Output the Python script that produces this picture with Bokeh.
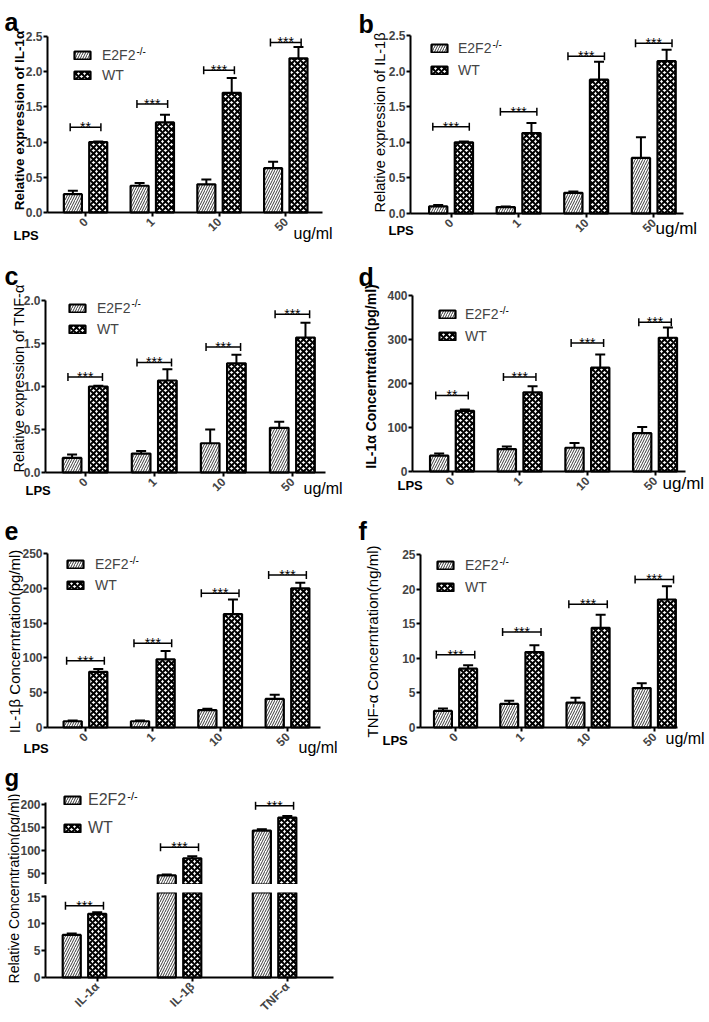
import math
from bokeh.plotting import figure
from bokeh.models import (Range1d, FixedTicker, NumeralTickFormatter, Label, Legend,
                          LegendItem, LinearAxis, ColumnDataSource, CDSView, IndexFilter)
from bokeh.layouts import row, column
from bokeh.embed import file_html
from bokeh.resources import INLINE
from bokeh.core.properties import value

FONT = "Liberation Sans"

# ---------------- data ----------------
doses = ["0", "1", "10", "50"]
cytokines = ["IL-1α", "IL-1β", "TNF-α"]

a_ko = [0.26, 0.38, 0.40, 0.63]
a_ko_err = [0.05, 0.04, 0.07, 0.09]
a_wt = [1.00, 1.28, 1.70, 2.19]
a_wt_err = [0.01, 0.11, 0.21, 0.16]
a_sig = ["**", "***", "***", "***"]
a_sig_y = [1.21, 1.54, 2.02, 2.415]
a_yticks = [0, 0.5, 1.0, 1.5, 2.0, 2.5]

b_ko = [0.10, 0.09, 0.29, 0.78]
b_ko_err = [0.02, 0.01, 0.02, 0.29]
b_wt = [1.00, 1.13, 1.88, 2.14]
b_wt_err = [0.01, 0.14, 0.25, 0.16]
b_sig = ["***", "***", "***", "***"]
b_sig_y = [1.22, 1.43, 2.21, 2.39]
b_yticks = [0, 0.5, 1.0, 1.5, 2.0, 2.5]

c_ko = [0.17, 0.22, 0.34, 0.52]
c_ko_err = [0.04, 0.03, 0.16, 0.07]
c_wt = [1.00, 1.07, 1.27, 1.57]
c_wt_err = [0.01, 0.13, 0.10, 0.17]
c_sig = ["***", "***", "***", "***"]
c_sig_y = [1.11, 1.28, 1.46, 1.84]
c_yticks = [0, 0.5, 1.0, 1.5, 2.0]

d_ko = [36, 51, 54, 87]
d_ko_err = [5, 6, 11, 14]
d_wt = [138, 180, 236, 304]
d_wt_err = [3, 14, 30, 23]
d_sig = ["**", "***", "***", "***"]
d_sig_y = [173, 215, 292, 339]
d_yticks = [0, 100, 200, 300, 400]

e_ko = [9, 9, 25, 41]
e_ko_err = [1, 1, 2, 6]
e_wt = [80, 98, 163, 200]
e_wt_err = [4, 12, 21, 8]
e_sig = ["***", "***", "***", "***"]
e_sig_y = [96, 121, 193, 219]
e_yticks = [0, 50, 100, 150, 200, 250]

f_ko = [2.4, 3.4, 3.6, 5.7]
f_ko_err = [0.35, 0.45, 0.7, 0.7]
f_wt = [8.5, 10.9, 14.4, 18.5]
f_wt_err = [0.5, 1.0, 1.9, 1.9]
f_sig = ["***", "***", "***", "***"]
f_sig_y = [10.5, 13.8, 17.8, 21.4]
f_yticks = [0, 5, 10, 15, 20, 25]

g_ko = [7.9, 46.5, 143]
g_ko_err = [0.25, 2, 3]
g_wt = [11.8, 83.5, 171]
g_wt_err = [0.3, 4.5, 3.5]
g_sig = ["***", "***", "***"]
g_sig_y = [13.3, 107, 196.4]
g_yticks_upper = [50, 100, 150, 200]
g_yticks_lower = [0, 5, 10, 15]
g_break = (15.2, 27)   # lower segment ends, upper segment starts

# ---------------- styles ----------------
KO_STYLE = dict(fill_color="white", hatch_pattern="/", hatch_color="#3a3a3a",
                hatch_scale=5, hatch_weight=1)
WT_STYLE = dict(fill_color="white", hatch_pattern="x", hatch_color="black",
                hatch_scale=6, hatch_weight=2.0)


def add_label(p, x, y, text, size, bold=False, angle=0.0, align="left",
              baseline="alphabetic"):
    p.add_layout(Label(x=x, y=y, x_units="screen", y_units="screen", text=text,
                       text_font=FONT, text_font_size=f"{size}px",
                       text_font_style="bold" if bold else "normal", angle=angle,
                       text_align=align, text_baseline=baseline, text_color="black"))


def make_fig(w, h, L, R, T, B, xs, xe, ymin, ymax):
    # the whole canvas is the frame; the plot box [L,R]x[T,B] (pixels) holds the data
    kx = (R - L) / (xe - xs)
    ky = (B - T) / (ymax - ymin)
    p = figure(width=w, height=h,
               x_range=Range1d(xs - L / kx, xe + (w - R) / kx),
               y_range=Range1d(ymin - (h - B) / ky, ymax + T / ky),
               min_border_left=0, min_border_right=0, min_border_top=0,
               min_border_bottom=0, output_backend="svg", toolbar_location=None,
               x_axis_location=None, y_axis_location=None)
    p.grid.visible = False
    p.outline_line_color = None
    p.background_fill_color = "white"
    p.border_fill_color = "white"
    return p


def y_axis(p, xs, ymin, ymax, ticks, fmt, tick_out=4):
    ax = LinearAxis(fixed_location=xs, bounds=(ymin, ymax),
                    ticker=FixedTicker(ticks=ticks),
                    formatter=NumeralTickFormatter(format=fmt))
    ax.minor_tick_line_color = None
    ax.major_tick_out = tick_out
    ax.major_tick_in = 0
    ax.axis_line_width = 2
    ax.major_tick_line_width = 2
    ax.major_label_text_font = FONT
    ax.major_label_text_font_size = "12px"
    ax.major_label_text_font_style = "bold"
    ax.major_label_standoff = 1
    p.add_layout(ax, "left")


def x_axis(p, ymin, xs, xe, ticks, labels):
    ax = LinearAxis(fixed_location=ymin, bounds=(xs, xe),
                    ticker=FixedTicker(ticks=ticks),
                    major_label_overrides={t: lab for t, lab in zip(ticks, labels)},
                    major_label_orientation=math.pi / 4)
    ax.minor_tick_line_color = None
    ax.major_tick_out = 4
    ax.major_tick_in = 0
    ax.axis_line_width = 2
    ax.major_tick_line_width = 2
    ax.major_label_text_font = FONT
    ax.major_label_text_font_size = "12px"
    ax.major_label_text_font_style = "bold"
    ax.major_label_standoff = 3
    p.add_layout(ax, "below")


def draw_groups(p, ko, ko_err, wt, wt_err, sig, sig_y, bw, off, hw,
                bar_idx=None, mark_idx=None):
    n = len(ko)
    pos = list(range(n))
    src = ColumnDataSource(dict(
        pos=pos, xk=[x - off for x in pos], xw=[x + off for x in pos],
        ko=ko, wt=wt,
        ko_top=[v + e for v, e in zip(ko, ko_err)],
        wt_top=[v + e for v, e in zip(wt, wt_err)],
        x0=[x - hw for x in pos], x1=[x + hw for x in pos],
        sig=sig, sig_y=sig_y))
    bview = CDSView(filter=IndexFilter(bar_idx if bar_idx is not None else pos))
    mview = CDSView(filter=IndexFilter(mark_idx if mark_idx is not None else pos))
    rk = p.vbar(x="xk", top="ko", bottom=0, width=bw, source=src, view=bview,
                line_color="black", line_width=2.2, **KO_STYLE)
    rw = p.vbar(x="xw", top="wt", bottom=0, width=bw, source=src, view=bview,
                line_color="black", line_width=2.2, **WT_STYLE)
    for xcol, vcol, tcol in (("xk", "ko", "ko_top"), ("xw", "wt", "wt_top")):
        p.segment(x0=xcol, y0=vcol, x1=xcol, y1=tcol, source=src, view=bview,
                  line_color="black", line_width=2)
        p.scatter(x=xcol, y=tcol, source=src, view=bview, marker="dash", size=10,
                  line_color="black", line_width=2)
    p.segment(x0="x0", y0="sig_y", x1="x1", y1="sig_y", source=src, view=mview,
              line_color="black", line_width=1.5)
    for xcol in ("x0", "x1"):
        p.scatter(x=xcol, y="sig_y", source=src, view=mview, marker="dash",
                  angle=math.pi / 2, size=8, line_color="black", line_width=1.5)
    p.text(x="pos", y="sig_y", text="sig", source=src, view=mview,
           text_font=value(FONT), text_font_size="14px", text_align="center",
           text_baseline="alphabetic", text_color="black")
    return rk, rw


def add_legend(p, rk, rw, lx, ly, st, sp, fs, rowh):
    leg = Legend(items=[LegendItem(label="E2F2", renderers=[rk]),
                        LegendItem(label="WT", renderers=[rw])],
                 location=(lx, ly), orientation="vertical", glyph_width=20,
                 glyph_height=10, label_standoff=st, label_text_font=FONT,
                 label_text_font_size=f"{fs}px", label_height=rowh, spacing=sp,
                 padding=0, margin=0, border_line_color=None, background_fill_alpha=0)
    p.add_layout(leg)
    legh = 2 * rowh + sp
    add_label(p, lx + 20 + st + 2.39 * fs + 0.5, ly + legh - rowh / 2 + 4.5, "-/-",
              round(fs * 0.68), baseline="middle")


def panel(letter, ko, ko_err, wt, wt_err, sig, sig_y, yticks, fmt, ylabel, s):
    ymin, ymax = yticks[0], yticks[-1]
    p = make_fig(s["w"], s["h"], s["L"], s["R"], s["T"], s["B"], s["xs"], s["xe"],
                 ymin, ymax)
    rk, rw = draw_groups(p, ko, ko_err, wt, wt_err, sig, sig_y, 0.27, 0.19, s["hw"])
    y_axis(p, s["xs"], ymin, ymax, yticks, fmt)
    x_axis(p, ymin, s["xs"], s["xe"], list(range(len(doses))), doses)
    add_legend(p, rk, rw, *s["leg"])
    add_label(p, s["let"][0], s["let"][1], letter, 25, bold=True)
    add_label(p, s["lps"][0], s["lps"][1], "LPS", 13, bold=True)
    add_label(p, s["ug"][0], s["ug"][1], "ug/ml", s["ug"][2])
    yl = s["ylab"]
    add_label(p, yl[0], yl[1], ylabel, yl[2], bold=yl[3], angle=math.pi / 2,
              align="center")
    return p


# canvas sizes and plot boxes in pixels (layout only)
SPEC = {
    "a": dict(w=355, h=258, L=47, R=322, T=36, B=212, xs=-0.57, xe=3.55, hw=0.23,
              let=(4, 237), lps=(13, 23), ug=(293, 25, 16), ylab=(19, 138, 13.5, True),
              leg=(72, 175, 10, 4, 14, 16)),
    "b": dict(w=354, h=258, L=55, R=328, T=35, B=213, xs=-0.60, xe=3.44, hw=0.27,
              let=(3, 235), lps=(33, 28), ug=(300, 30, 17), ylab=(24, 136, 14.5, False),
              leg=(74, 180, 9, 6, 14, 16)),
    "c": dict(w=355, h=252, L=45, R=325, T=42, B=214, xs=-0.575, xe=3.48, hw=0.25,
              let=(4, 235), lps=(25, 20), ug=(303, 22, 16), ylab=(18, 132, 14.5, False),
              leg=(67, 173.5, 10, 5, 14, 16)),
    "d": dict(w=354, h=252, L=57, R=330, T=37, B=213, xs=-0.584, xe=3.45, hw=0.24,
              let=(3, 234), lps=(42, 25), ug=(307, 27, 17), ylab=(15, 134, 14, True),
              leg=(82, 166, 8, 6, 14, 16)),
    "e": dict(w=355, h=246, L=47, R=320, T=43, B=217, xs=-0.564, xe=3.49, hw=0.28,
              let=(4, 226), lps=(23, 8), ug=(298, 9, 16), ylab=(14, 115, 15, False),
              leg=(65, 163, 10, 5, 14, 16)),
    "f": dict(w=354, h=246, L=65, R=322, T=44, B=217, xs=-0.529, xe=3.35, hw=0.29,
              let=(3, 226), lps=(27, 16), ug=(310, 18, 16), ylab=(17, 115, 15, False),
              leg=(80, 161, 10, 6, 14, 16)),
}

pa = panel("a", a_ko, a_ko_err, a_wt, a_wt_err, a_sig, a_sig_y, a_yticks, "0.0",
           "Relative expression of IL-1α", SPEC["a"])
pb = panel("b", b_ko, b_ko_err, b_wt, b_wt_err, b_sig, b_sig_y, b_yticks, "0.0",
           "Relative expression of IL-1β", SPEC["b"])
pc = panel("c", c_ko, c_ko_err, c_wt, c_wt_err, c_sig, c_sig_y, c_yticks, "0.0",
           "Relative expression of TNF-α", SPEC["c"])
pd = panel("d", d_ko, d_ko_err, d_wt, d_wt_err, d_sig, d_sig_y, d_yticks, "0",
           "IL-1α Concerntration(pg/ml)", SPEC["d"])
pe = panel("e", e_ko, e_ko_err, e_wt, e_wt_err, e_sig, e_sig_y, e_yticks, "0",
           "IL-1β Concerntration(pg/ml)", SPEC["e"])
pf = panel("f", f_ko, f_ko_err, f_wt, f_wt_err, f_sig, f_sig_y, f_yticks, "0",
           "TNF-α Concerntration(ng/ml)", SPEC["f"])

# ---------------- panel g (broken axis) ----------------
g_xs, g_xe = -0.41, 2.62
g_bw, g_off, g_hw = 0.19, 0.134, 0.2
lo_top, up_bot = g_break
up_idx = [i for i in range(len(g_ko)) if max(g_ko[i], g_wt[i]) > up_bot]
up_mark = [i for i in range(len(g_ko)) if g_sig_y[i] > up_bot]
lo_mark = [i for i in range(len(g_ko)) if g_sig_y[i] < lo_top]

gu = make_fig(335, 128, 25, 313, 46, 128, g_xs, g_xe, up_bot, 203.5)
rk, rw = draw_groups(gu, g_ko, g_ko_err, g_wt, g_wt_err, g_sig, g_sig_y, g_bw, g_off,
                     g_hw, bar_idx=up_idx, mark_idx=up_mark)
y_axis(gu, g_xs, up_bot, 203.5, g_yticks_upper, "0")
add_legend(gu, rk, rw, 42, 47, 6, 10, 16, 18)

gap = figure(width=335, height=8, min_border_left=0, min_border_right=0,
             min_border_top=0, min_border_bottom=0, x_range=Range1d(0, 1),
             y_range=Range1d(0, 1), output_backend="svg", toolbar_location=None,
             x_axis_location=None, y_axis_location=None)
gap.grid.visible = False
gap.outline_line_color = None

gd = make_fig(335, 130, 25, 313, 3, 85, g_xs, g_xe, 0, lo_top)
draw_groups(gd, g_ko, g_ko_err, g_wt, g_wt_err, g_sig, g_sig_y, g_bw, g_off, g_hw,
            mark_idx=lo_mark)
y_axis(gd, g_xs, 0, lo_top, g_yticks_lower, "0")
x_axis(gd, 0, g_xs, g_xe, [i + g_off for i in range(len(cytokines))], cytokines)

gl = figure(width=20, height=266, min_border_left=0, min_border_right=0,
            min_border_top=0, min_border_bottom=0, x_range=Range1d(0, 1),
            y_range=Range1d(0, 1), output_backend="svg", toolbar_location=None,
            x_axis_location=None, y_axis_location=None)
gl.grid.visible = False
gl.outline_line_color = None
add_label(gl, 4, 245, "g", 24, bold=True)
add_label(gl, 13, 134, "Relative Concerntration(pg/ml)", 14, angle=math.pi / 2,
          align="center")

layout = column(row(pa, pb), row(pc, pd), row(pe, pf),
                row(gl, column(gu, gap, gd)))

with open("out.html", "w") as fh:
    fh.write(file_html(layout, INLINE))
